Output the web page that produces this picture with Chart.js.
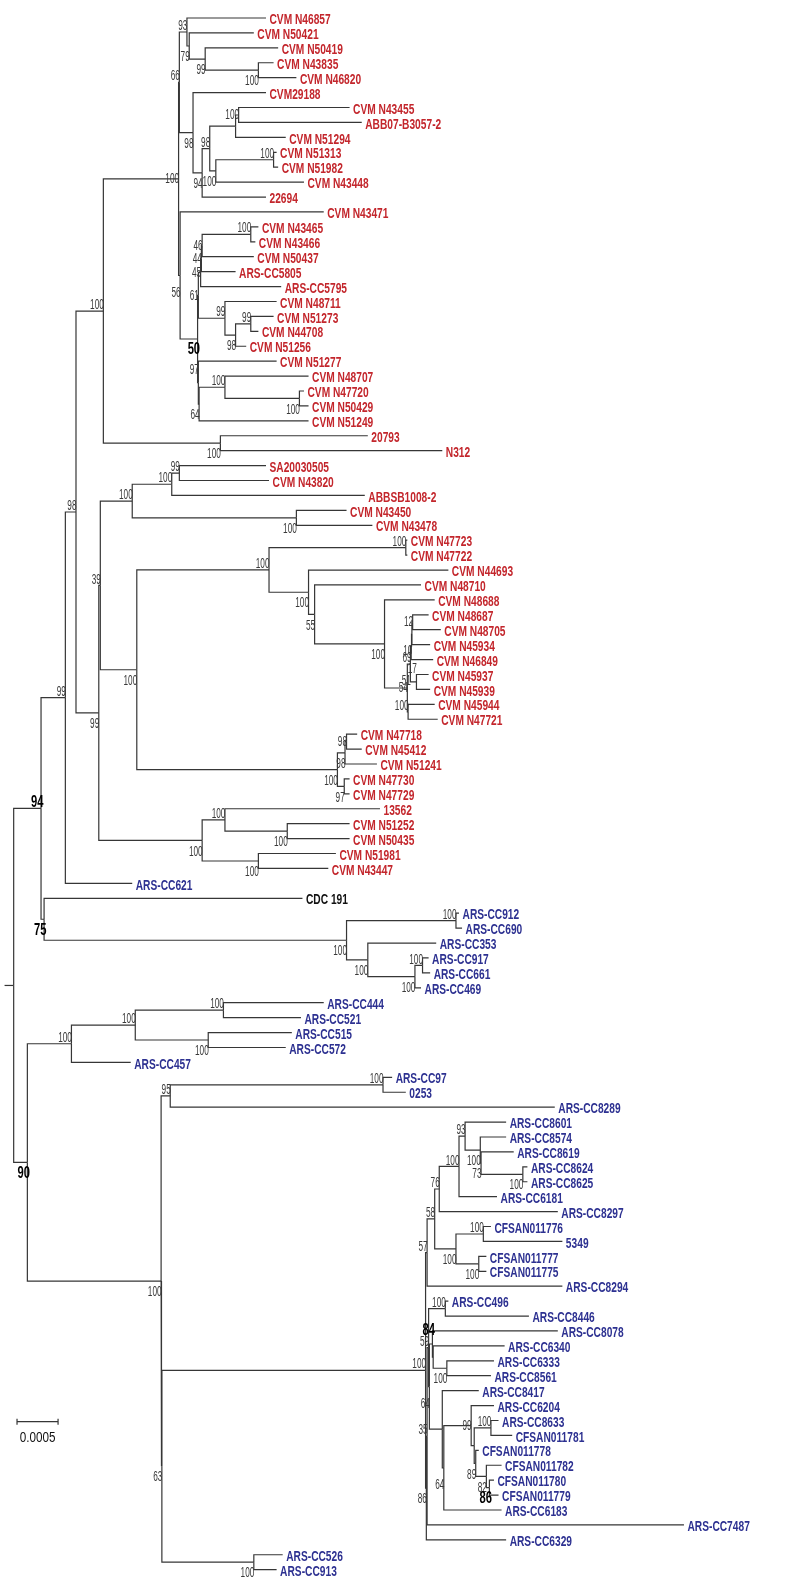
<!DOCTYPE html>
<html lang="en">
<head>
<meta charset="UTF-8">
<title>Phylogenetic tree</title>
<script src="https://cdn.jsdelivr.net/npm/chart.js"></script>
<style>
  html, body { margin: 0; padding: 0; background: #fff; }
  #wrap { width: 794px; height: 1588px; position: relative; }
</style>
</head>
<body>
<div id="wrap"><canvas id="tree"></canvas></div>
<script>
// tips, top to bottom: name, parent node, tip depth, clade
// depth is read off the figure; 27 depth units = 0.0005 substitutions/site
const leaves = [
  ['CVM N46857', 'n93', 175, 'I'],
  ['CVM N50421', 'n79', 167, 'I'],
  ['CVM N50419', 'n99c', 183, 'I'],
  ['CVM N43835', 'n100c', 180, 'I'],
  ['CVM N46820', 'n100c', 195, 'I'],
  ['CVM29188', 'n98b', 175, 'I'],
  ['CVM N43455', 'n100f', 230, 'I'],
  ['ABB07-B3057-2', 'n100f', 238, 'I'],
  ['CVM N51294', 'nA', 188, 'I'],
  ['CVM N51313', 'n100e', 182, 'I'],
  ['CVM N51982', 'n100e', 183, 'I'],
  ['CVM N43448', 'n100d', 200, 'I'],
  ['22694', 'n94b', 175, 'I'],
  ['CVM N43471', 'n56', 213, 'I'],
  ['CVM N43465', 'n100g', 170, 'I'],
  ['CVM N43466', 'n100g', 168, 'I'],
  ['CVM N50437', 'n46', 167, 'I'],
  ['ARS-CC5805', 'n44', 155, 'I'],
  ['ARS-CC5795', 'n45', 185, 'I'],
  ['CVM N48711', 'n99d', 182, 'I'],
  ['CVM N51273', 'n99e', 180, 'I'],
  ['CVM N44708', 'n99e', 170, 'I'],
  ['CVM N51256', 'n98d', 162, 'I'],
  ['CVM N51277', 'n97', 182, 'I'],
  ['CVM N48707', 'n100h', 203, 'I'],
  ['CVM N47720', 'n100i', 200, 'I'],
  ['CVM N50429', 'n100i', 203, 'I'],
  ['CVM N51249', 'n64', 203, 'I'],
  ['20793', 'n100b', 242, 'I'],
  ['N312', 'n100b', 291, 'I'],
  ['SA20030505', 'n99f', 175, 'I'],
  ['CVM N43820', 'n99f', 177, 'I'],
  ['ABBSB1008-2', 'n100m', 240, 'I'],
  ['CVM N43450', 'n100n', 228, 'I'],
  ['CVM N43478', 'n100n', 245, 'I'],
  ['CVM N47723', 'n100p', 268, 'I'],
  ['CVM N47722', 'n100p', 268, 'I'],
  ['CVM N44693', 'n100q', 295, 'I'],
  ['CVM N48710', 'n55', 277, 'I'],
  ['CVM N48688', 'n100r', 286, 'I'],
  ['CVM N48687', 'n12', 282, 'I'],
  ['CVM N48705', 'n12', 290, 'I'],
  ['CVM N45934', 'n10', 283, 'I'],
  ['CVM N46849', 'n69', 285, 'I'],
  ['CVM N45937', 'n17', 282, 'I'],
  ['CVM N45939', 'n17', 283, 'I'],
  ['CVM N45944', 'n100s', 286, 'I'],
  ['CVM N47721', 'n100s', 288, 'I'],
  ['CVM N47718', 'n98g', 235, 'I'],
  ['CVM N45412', 'n98g', 238, 'I'],
  ['CVM N51241', 'n98f', 248, 'I'],
  ['CVM N47730', 'n97b', 230, 'I'],
  ['CVM N47729', 'n97b', 230, 'I'],
  ['13562', 'n100u', 250, 'I'],
  ['CVM N51252', 'n100w', 230, 'I'],
  ['CVM N50435', 'n100w', 230, 'I'],
  ['CVM N51981', 'n100v', 221, 'I'],
  ['CVM N43447', 'n100v', 216, 'I'],
  ['ARS-CC621', 'n99a', 87, 'II'],
  ['CDC 191', 'n75', 199, 'ref'],
  ['ARS-CC912', 'n100y', 302, 'II'],
  ['ARS-CC690', 'n100y', 304, 'II'],
  ['ARS-CC353', 'n100z', 287, 'II'],
  ['ARS-CC917', 'n100ab', 282, 'II'],
  ['ARS-CC661', 'n100ab', 283, 'II'],
  ['ARS-CC469', 'n100aa', 277, 'II'],
  ['ARS-CC444', 'n100af', 213, 'II'],
  ['ARS-CC521', 'n100af', 198, 'II'],
  ['ARS-CC515', 'n100ag', 192, 'II'],
  ['ARS-CC572', 'n100ag', 188, 'II'],
  ['ARS-CC457', 'n100ac', 86, 'II'],
  ['ARS-CC97', 'n100ah', 258, 'II'],
  ['0253', 'n100ah', 267, 'II'],
  ['ARS-CC8289', 'n95', 365, 'II'],
  ['ARS-CC8601', 'n93b', 333, 'II'],
  ['ARS-CC8574', 'n100al', 333, 'II'],
  ['ARS-CC8619', 'n73', 338, 'II'],
  ['ARS-CC8624', 'n100am', 347, 'II'],
  ['ARS-CC8625', 'n100am', 347, 'II'],
  ['ARS-CC6181', 'n100ak', 327, 'II'],
  ['ARS-CC8297', 'n76', 367, 'II'],
  ['CFSAN011776', 'n100an', 323, 'II'],
  ['5349', 'n100an', 370, 'II'],
  ['CFSAN011777', 'n100ao', 320, 'II'],
  ['CFSAN011775', 'n100ao', 320, 'II'],
  ['ARS-CC8294', 'n57', 370, 'II'],
  ['ARS-CC496', 'n100ap', 295, 'II'],
  ['ARS-CC8446', 'n100ap', 348, 'II'],
  ['ARS-CC8078', 'R4', 367, 'II'],
  ['ARS-CC6340', 'R5', 332, 'II'],
  ['ARS-CC6333', 'n100aq', 325, 'II'],
  ['ARS-CC8561', 'n100aq', 323, 'II'],
  ['ARS-CC8417', 'h', 315, 'II'],
  ['ARS-CC6204', 'f99', 325, 'II'],
  ['ARS-CC8633', 'a100', 328, 'II'],
  ['CFSAN011781', 'a100', 337, 'II'],
  ['CFSAN011778', 'd89', 315, 'II'],
  ['CFSAN011782', 'c82', 330, 'II'],
  ['CFSAN011780', 'b86', 325, 'II'],
  ['CFSAN011779', 'b86', 328, 'II'],
  ['ARS-CC6183', 'g64', 330, 'II'],
  ['ARS-CC7487', 'R1', 450, 'II'],
  ['ARS-CC6329', 'R', 333, 'II'],
  ['ARS-CC526', 'n100ai', 186, 'II'],
  ['ARS-CC913', 'n100ai', 182, 'II']
];

// internal nodes: id, parent, depth, bootstrap
const nodes = [
  ['root', null, 9, ''],
  ['n94', 'root', 27, '94'],
  ['n90', 'root', 18, '90'],
  ['n99a', 'n94', 43, '99'],
  ['n75', 'n94', 29, '75'],
  ['n98a', 'n99a', 50, '98'],
  ['n100a', 'n98a', 68, '100'],
  ['n99b', 'n98a', 65, '99'],
  ['g1', 'n100a', 117.5, '100'],
  ['n100b', 'n100a', 145, '100'],
  ['n66', 'g1', 118, '66'],
  ['n56', 'g1', 118.5, '56'],
  ['n93', 'n66', 123, '93'],
  ['n79', 'n93', 124.5, '79'],
  ['n99c', 'n79', 135, '99'],
  ['n100c', 'n99c', 170, '100'],
  ['n98b', 'n66', 127, '98'],
  ['n94b', 'n98b', 133, '94'],
  ['n98c', 'n94b', 138, '98'],
  ['nA', 'n98c', 155, ''],
  ['n100f', 'nA', 157, '100'],
  ['n100d', 'n98c', 142, '100'],
  ['n100e', 'n100d', 180, '100'],
  ['n50', 'n56', 130, '50'],
  ['n61', 'n50', 130.5, '61'],
  ['n45', 'n61', 132, '45'],
  ['n44', 'n45', 132.5, '44'],
  ['n46', 'n44', 133, '46'],
  ['n100g', 'n46', 165, '100'],
  ['n99d', 'n61', 148, '99'],
  ['n98d', 'n99d', 155, '98'],
  ['n99e', 'n98d', 165, '99'],
  ['n97', 'n50', 130.5, '97'],
  ['n64', 'n97', 131, '64'],
  ['n100h', 'n64', 148, '100'],
  ['n100i', 'n100h', 197, '100'],
  ['nA39', 'n99b', 66, '39'],
  ['n100j', 'n99b', 133, '100'],
  ['n100k', 'nA39', 87, '100'],
  ['n100m', 'n100k', 113, '100'],
  ['n99f', 'n100m', 118, '99'],
  ['n100n', 'n100k', 195, '100'],
  ['n100l', 'nA39', 90, '100'],
  ['n100o', 'n100l', 177, '100'],
  ['n100p', 'n100o', 267, '100'],
  ['n100q', 'n100o', 203, '100'],
  ['n55', 'n100q', 207, '55'],
  ['n100r', 'n55', 253, '100'],
  ['n54', 'n100r', 268, '54'],
  ['n51', 'n54', 270, '51'],
  ['n69', 'n51', 270.5, '69'],
  ['n10', 'n69', 271, '10'],
  ['n12', 'n10', 271.5, '12'],
  ['n17', 'n51', 274, '17'],
  ['n100s', 'n54', 268.5, '100'],
  ['n100t', 'n100l', 222, '100'],
  ['n98f', 'n100t', 227, '98'],
  ['n98g', 'n98f', 228, '98'],
  ['n97b', 'n100t', 226.5, '97'],
  ['n100u', 'n100j', 148, '100'],
  ['n100w', 'n100u', 189, '100'],
  ['n100v', 'n100j', 170, '100'],
  ['n100x', 'n75', 228, '100'],
  ['n100y', 'n100x', 300, '100'],
  ['n100z', 'n100x', 242, '100'],
  ['n100aa', 'n100z', 273, '100'],
  ['n100ab', 'n100aa', 278, '100'],
  ['n100ac', 'n90', 47, '100'],
  ['n100ae', 'n100ac', 89, '100'],
  ['n100af', 'n100ae', 147, '100'],
  ['n100ag', 'n100ae', 137, '100'],
  ['n100ad', 'n90', 106, '100'],
  ['n95', 'n100ad', 112, '95'],
  ['n100ah', 'n95', 252, '100'],
  ['n63', 'n100ad', 106.5, '63'],
  ['n100ai', 'n63', 167, '100'],
  ['big', 'n63', 280, '100'],
  ['n57', 'big', 281, '57'],
  ['n58', 'n57', 286, '58'],
  ['n76', 'n58', 289, '76'],
  ['n100ak', 'n76', 302, '100'],
  ['n93b', 'n100ak', 306, '93'],
  ['n100al', 'n93b', 316, '100'],
  ['n73', 'n100al', 316.5, '73'],
  ['n100am', 'n73', 344, '100'],
  ['n100aj', 'n58', 300, '100'],
  ['n100an', 'n100aj', 318, '100'],
  ['n100ao', 'n100aj', 315, '100'],
  ['R', 'big', 280.5, '86'],
  ['R1', 'R', 281, '35'],
  ['R2', 'R1', 282, '59'],
  ['n100ap', 'R2', 293, '100'],
  ['R3', 'R2', 282.5, '64'],
  ['R4', 'R3', 284.5, '84'],
  ['R5', 'R4', 285, ''],
  ['n100aq', 'R5', 294, '100'],
  ['h', 'R3', 291, ''],
  ['g64', 'h', 292, '64'],
  ['f99', 'g64', 310, '99'],
  ['e', 'f99', 312, ''],
  ['a100', 'e', 323, '100'],
  ['d89', 'e', 313, '89'],
  ['c82', 'd89', 320, '82'],
  ['b86', 'c82', 322, '86']
];

const rootStart = 3;
const scaleBarSpan = [11.2, 38.2];   // 0.0005 substitutions/site
const scaleBarText = '0.0005';
const depthMax = 522.4;              // right edge of the plot in depth units

// ---- style ----
const cladeColor = { I: '#c3262c', II: '#2d3191', ref: '#111111' };
const boldSupport = ['n94', 'n90', 'n75', 'n50', 'R4', 'b86'];
const supportPlace = {
  a: ['n93','n66','n98c','n100e','n100g','n99d','n99e','n100h','n100a','n98a','n99a','n94','n99f',
      'n100m','n100k','nA39','n100p','n100o','n100s','n100u','n100y','n100ab','n100ac','n100ae','n100af',
      'n100ah','n95','big','n57','n58','n76','n100ak','n93b','n100an','n100ap','R2','a100','R1'],
  A: ['n97','n17','R4'],
  m: ['n61','n44','n45','n46','n100f','g1','n12','n54','n98g','f99'],
  B: ['n56','n10','n51','R3','g64']
};
const placeDy = { a: -6, A: -13, m: 0, b: 11, B: 17 };
const lineColor = '#363636';

// ---- build tree ----
const byId = {};
nodes.forEach(n => { byId[n[0]] = { id: n[0], x: n[2], support: n[3], kids: [] }; });
nodes.forEach(n => { if (n[1]) byId[n[1]].kids.push(byId[n[0]]); });
leaves.forEach((l, i) => { byId[l[1]].kids.push({ leaf: true, x: l[2], y: i + 1 }); });

function yOf(n) {
  if (n.y !== undefined) return n.y;
  const ys = n.kids.map(yOf);
  n.y = (Math.min(...ys) + Math.max(...ys)) / 2;
  return n.y;
}
const root = byId['root'];
yOf(root);

const datasets = [];
function seg(points) {
  datasets.push({
    data: points, showLine: true, borderColor: lineColor, borderWidth: 1.2,
    pointRadius: 0, pointHoverRadius: 0, fill: false, tension: 0
  });
}
seg([{ x: rootStart, y: root.y }, { x: root.x, y: root.y }]);
Object.values(byId).forEach(n => {
  n.kids.forEach(c => {
    seg([{ x: n.x, y: n.y }, { x: n.x, y: c.y }, { x: c.x, y: c.y }]);
  });
});

// y scale: one row per tip
const rowPx = 14.92, topPx = 18, H = 1588;
const yMin = 1 - topPx / rowPx;
const yMax = yMin + H / rowPx;
const barRow = yMin + 1421.7 / rowPx;
const tick = 0.2;
seg([
  { x: scaleBarSpan[0], y: barRow - tick }, { x: scaleBarSpan[0], y: barRow + tick },
  { x: scaleBarSpan[0], y: barRow }, { x: scaleBarSpan[1], y: barRow },
  { x: scaleBarSpan[1], y: barRow - tick }, { x: scaleBarSpan[1], y: barRow + tick }
]);

function squeeze(ctx, text, px, py, sx, font, color, align) {
  ctx.save();
  ctx.translate(px, py);
  ctx.scale(sx, 1);
  ctx.font = font;
  ctx.fillStyle = color;
  ctx.textAlign = align;
  ctx.textBaseline = 'middle';
  ctx.fillText(text, 0, 0);
  ctx.restore();
}

const FAMILY = '"Liberation Sans", Arial, sans-serif';
const textPlugin = {
  id: 'treeText',
  afterDatasetsDraw(chart) {
    const { ctx, scales: { x, y } } = chart;
    leaves.forEach((l, i) => {
      squeeze(ctx, l[0], x.getPixelForValue(l[2]) + 3.5, y.getPixelForValue(i + 1) + 2,
        0.68, 'bold 15px ' + FAMILY, cladeColor[l[3]], 'left');
    });
    Object.values(byId).forEach(n => {
      if (!n.support) return;
      let place = 'b';
      for (const k in supportPlace) if (supportPlace[k].includes(n.id)) place = k;
      const px = x.getPixelForValue(n.x) + 0.5;
      const py = y.getPixelForValue(n.y) + placeDy[place];
      if (boldSupport.includes(n.id)) {
        squeeze(ctx, n.support, px + 2, py, 0.7, 'bold 16px ' + FAMILY, '#000', 'right');
      } else {
        squeeze(ctx, n.support, px, py, 0.55, '15px ' + FAMILY, '#3a3a3a', 'right');
      }
    });
    const bx = (x.getPixelForValue(scaleBarSpan[0]) + x.getPixelForValue(scaleBarSpan[1])) / 2;
    squeeze(ctx, scaleBarText, bx, y.getPixelForValue(barRow) + 16, 0.78, '15px ' + FAMILY, '#111', 'center');
  }
};

new Chart(document.getElementById('tree'), {
  type: 'scatter',
  data: { datasets },
  options: {
    responsive: true,
    maintainAspectRatio: false,
    animation: false,
    events: [],
    layout: { padding: 0 },
    plugins: { legend: { display: false }, tooltip: { enabled: false } },
    scales: {
      x: { type: 'linear', display: false, min: 0, max: depthMax },
      y: { type: 'linear', display: false, reverse: true, min: yMin, max: yMax }
    }
  },
  plugins: [textPlugin]
});
</script>
</body>
</html>
